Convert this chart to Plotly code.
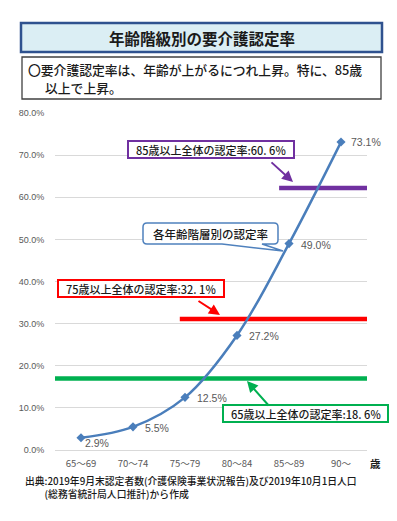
import plotly.graph_objects as go

# ---------------- data ----------------
age_groups = ["65～69", "70～74", "75～79", "80～84", "85～89", "90～"]
rates = [2.9, 5.5, 12.5, 27.2, 49.0, 73.1]
rate_labels = ["2.9%", "5.5%", "12.5%", "27.2%", "49.0%", "73.1%"]

ref_labels = ["65歳以上全体の認定率:18. 6%", "75歳以上全体の認定率:32. 1%", "85歳以上全体の認定率:60. 6%"]
ref_levels = [17.0, 31.1, 62.2]   # drawn height of the reference lines
ref_start = [-0.56, 1.9, 3.81]     # category position where each line starts
ref_end = [5.56, 5.5, 5.5]
ref_colors = ["#00b050", "#ff0000", "#7030a0"]

title_text = "年齢階級別の要介護認定率"
summary_lines = ["〇要介護認定率は、年齢が上がるにつれ上昇。特に、85歳", "以上で上昇。"]
callout_text = "各年齢階層別の認定率"
source_lines = ["出典:2019年9月末認定者数(介護保険事業状況報告)及び2019年10月1日人口",
                "(総務省統計局人口推計)から作成"]

W, H = 397, 521
L, R, T, B = 55, 30, 113, 71
PW, PH = W - L - R, H - T - B


def X(px):
    return (px - L) / PW


def Y(py):
    return (H - B - py) / PH


def P(px, py):
    return f"{X(px):.5f},{Y(py):.5f}"


JP = "Noto Sans CJK JP"
LINE_BLUE = "#4a7ebb"
TXT = "#1a1a1a"

fig = go.Figure()

# reference lines (drawn first, below the series)
for lvl, x0, x1, col in zip(ref_levels, ref_start, ref_end, ref_colors):
    fig.add_trace(go.Scatter(x=[x0, x1], y=[lvl, lvl], mode="lines",
                             line=dict(color=col, width=4.5), hoverinfo="skip"))

fig.add_trace(go.Scatter(
    x=list(range(len(age_groups))), y=rates, mode="lines+markers",
    line=dict(color=LINE_BLUE, width=2.5, shape="spline", smoothing=1),
    marker=dict(symbol="diamond", size=7, color=LINE_BLUE),
    cliponaxis=False, hoverinfo="skip"))

fig.update_layout(
    width=W, height=H, margin=dict(l=L, r=R, t=T, b=B),
    plot_bgcolor="white", paper_bgcolor="white", showlegend=False,
    font=dict(family=JP),
)
fig.update_xaxes(range=[-0.5, 5.5], tickvals=list(range(len(age_groups))), ticktext=age_groups,
                 showgrid=False, zeroline=False, showline=False,
                 ticks="outside", ticklen=5, tickcolor="rgba(0,0,0,0)",
                 tickfont=dict(family=JP, size=9.5, color="#595959"), fixedrange=True)
fig.update_yaxes(range=[0, 80], dtick=10, tickformat=".1f", ticksuffix="%",
                 showgrid=True, gridcolor="#d9d9d9", gridwidth=1.2,
                 zeroline=True, zerolinecolor="#d9d9d9", zerolinewidth=1.2, showline=False,
                 ticks="outside", ticklen=8, tickcolor="rgba(0,0,0,0)",
                 tickfont=dict(family="Liberation Sans, Arial", size=9, color="#595959"), fixedrange=True)

shapes = []
# title box
shapes.append(dict(type="rect", xref="paper", yref="paper", x0=X(21), x1=X(382), y0=Y(52), y1=Y(23),
                   fillcolor="#dbeef4", line=dict(color="#2f528f", width=2.5), layer="above"))
# summary box
shapes.append(dict(type="rect", xref="paper", yref="paper", x0=X(22), x1=X(381), y0=Y(99), y1=Y(57),
                   fillcolor="white", line=dict(color="#404040", width=1.3), layer="above"))
# reference label boxes
box_px = {
    "#7030a0": (128, 141, 294, 158),
    "#ff0000": (58, 280, 224, 297),
    "#00b050": (223, 405, 388, 422),
}
for col, (x0, y0, x1, y1) in box_px.items():
    shapes.append(dict(type="rect", xref="paper", yref="paper", x0=X(x0), x1=X(x1), y0=Y(y1), y1=Y(y0),
                       fillcolor="white", line=dict(color=col, width=2), layer="above"))

# callout (rounded box with tail)
cx0, cy0, cx1, cy1 = 143, 223, 278, 244
r = 4
path = (f"M {P(cx0 + r, cy0)} L {P(cx1 - r, cy0)} Q {P(cx1, cy0)} {P(cx1, cy0 + r)} "
        f"L {P(cx1, cy1 - r)} Q {P(cx1, cy1)} {P(cx1 - r, cy1)} "
        f"L {P(262, cy1)} L {P(283, 251)} L {P(222, cy1)} "
        f"L {P(cx0 + r, cy1)} Q {P(cx0, cy1)} {P(cx0, cy1 - r)} "
        f"L {P(cx0, cy0 + r)} Q {P(cx0, cy0)} {P(cx0 + r, cy0)} Z")
shapes.append(dict(type="path", xref="paper", yref="paper", path=path,
                   fillcolor="white", line=dict(color="#4f81bd", width=1.5), layer="above"))
fig.update_layout(shapes=shapes)

ann = []
# data labels
for i, (v, lab) in enumerate(zip(rates, rate_labels)):
    first = i == 0
    last = i == len(rates) - 1
    ann.append(dict(text=lab, xref="x", yref="y", x=i, y=v,
                    xanchor="left", yanchor="middle", showarrow=False,
                    xshift=2 if first else (8 if last else 10), yshift=-5 if first else (0 if last else -1),
                    font=dict(family="Liberation Sans, Arial", size=10.5, color="#595959")))

ann.append(dict(text=title_text, xref="paper", yref="paper", x=X(201.5), y=Y(37.5),
                xanchor="center", yanchor="middle", showarrow=False,
                font=dict(family=JP, size=15.5, color=TXT, weight=700)))
ann.append(dict(text=summary_lines[0], xref="paper", yref="paper",
                x=X(26), y=Y(69.5), xanchor="left", yanchor="middle", align="left", showarrow=False,
                font=dict(family=JP, size=12.8, color=TXT, weight=500)))
ann.append(dict(text=summary_lines[1], xref="paper", yref="paper",
                x=X(43), y=Y(87.5), xanchor="left", yanchor="middle", align="left", showarrow=False,
                font=dict(family=JP, size=12.8, color=TXT, weight=500)))

# reference label texts
label_pos = [(305.5, 413.5), (141, 288.5), (211, 149.5)]
for txt, (px, py) in zip(ref_labels, label_pos):
    ann.append(dict(text=txt, xref="paper", yref="paper", x=X(px), y=Y(py),
                    xanchor="center", yanchor="middle", showarrow=False,
                    font=dict(family=JP, size=11, color=TXT, weight=500)))

ann.append(dict(text=callout_text, xref="paper", yref="paper", x=X(210.5), y=Y(233.5),
                xanchor="center", yanchor="middle", showarrow=False,
                font=dict(family=JP, size=11.5, color=TXT, weight=500)))

# arrows
arrows = [((247, 381), (270, 407), "#00b050"),
          ((220, 315), (197, 300), "#ff0000"),
          ((293, 182), (270, 161), "#7030a0")]
for (hx, hy), (tx, ty), col in arrows:
    ann.append(dict(text="", xref="paper", yref="paper", x=X(hx), y=Y(hy),
                    ax=tx - hx, ay=ty - hy, axref="pixel", ayref="pixel",
                    showarrow=True, arrowhead=2, arrowsize=1.1, arrowwidth=2, arrowcolor=col))

# unit label
ann.append(dict(text="歳", xref="paper", yref="paper", x=X(375), y=Y(463),
                xanchor="center", yanchor="middle", showarrow=False,
                font=dict(family=JP, size=10.5, color=TXT, weight=700)))

# source
ann.append(dict(text=source_lines[0] + "<br>　　" + source_lines[1], xref="paper", yref="paper",
                x=X(23), y=Y(488), xanchor="left", yanchor="middle", align="left", showarrow=False,
                font=dict(family=JP, size=9.8, color=TXT, weight=500)))

fig.update_layout(annotations=ann)
fig.write_html("out.html", config={"displayModeBar": False},
               post_script="document.body.style.margin='0';")
